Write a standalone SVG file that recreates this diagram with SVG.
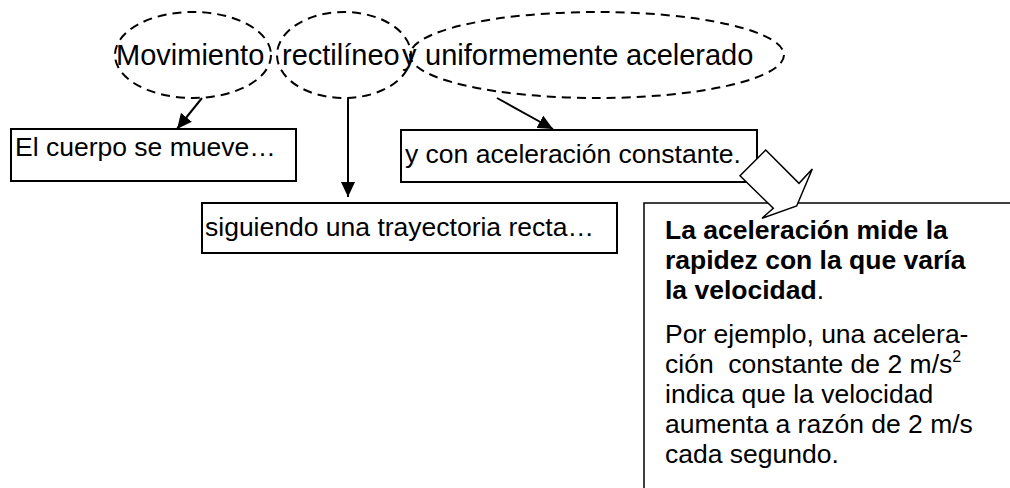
<svg xmlns="http://www.w3.org/2000/svg" width="1010" height="488" viewBox="0 0 1010 488">
<style>
  text { font-family: "Liberation Sans", Arial, sans-serif; fill: #000; }
  .t { font-size: 26.5px; }
  .title { font-size: 29px; }
  .b { font-weight: bold; }
  .ell { fill: none; stroke: #000; stroke-width: 2; stroke-dasharray: 9 6; }
  .box { fill: #fff; stroke: #000; stroke-width: 2; }
  .con { fill: none; stroke: #000; stroke-width: 2; }
</style>
<defs>
  <marker id="ah" markerUnits="userSpaceOnUse" markerWidth="16" markerHeight="14" refX="15" refY="7" orient="auto">
    <path d="M0,0 L15,7 L0,14 z" fill="#000"/>
  </marker>
</defs>
<rect width="1010" height="488" fill="#fff"/>

<g id="title">
  <ellipse class="ell" cx="193" cy="55" rx="78" ry="43"/>
  <ellipse class="ell" cx="344" cy="55" rx="67" ry="43"/>
  <ellipse class="ell" cx="597" cy="55" rx="187" ry="43"/>
  <text class="title" y="65"><tspan x="116">Movimiento</tspan><tspan x="282">rectilíneo</tspan><tspan x="402">y</tspan><tspan x="425">uniformemente</tspan><tspan x="626">acelerado</tspan></text>
</g>

<g id="connectors">
  <line class="con" x1="202" y1="98" x2="177" y2="129" marker-end="url(#ah)"/>
  <line class="con" x1="348" y1="98" x2="348" y2="197" marker-end="url(#ah)"/>
  <line class="con" x1="497" y1="98" x2="553" y2="129" marker-end="url(#ah)"/>
</g>

<g id="box1">
  <rect class="box" x="11" y="129" width="285" height="52"/>
  <text class="t" x="15" y="156">El cuerpo se mueve…</text>
</g>

<g id="box2">
  <rect class="box" x="401" y="130" width="356" height="52"/>
  <text class="t" x="405" y="163">y con aceleración constante.</text>
</g>

<g id="box3">
  <rect class="box" x="202" y="203" width="415" height="50"/>
  <text class="t" x="205" y="236">siguiendo una trayectoria recta…</text>
</g>

<g id="info">
  <path d="M1012,203 H644 V490" fill="none" stroke="#000" stroke-width="1.5"/>
  <text class="t b" x="665" y="239">La aceleración mide la</text>
  <text class="t b" x="665" y="269">rapidez con la que varía</text>
  <text class="t" x="665" y="299"><tspan class="b">la velocidad</tspan>.</text>
  <text class="t" x="665" y="343">Por ejemplo, una acelera-</text>
  <text class="t" x="665" y="373" xml:space="preserve">ción  constante de 2 m/s<tspan font-size="16" dy="-11">2</tspan></text>
  <text class="t" x="665" y="403">indica que la velocidad</text>
  <text class="t" x="665" y="433">aumenta a razón de 2 m/s</text>
  <text class="t" x="665" y="463">cada segundo.</text>
</g>

<g id="block-arrow">
  <polygon points="765.7,150 799,183.3 812.3,169 796.7,206 762,218.3 773.3,208.3 740,175.7" fill="#fff" stroke="#000" stroke-width="1.5" stroke-linejoin="miter"/>
</g>
</svg>
